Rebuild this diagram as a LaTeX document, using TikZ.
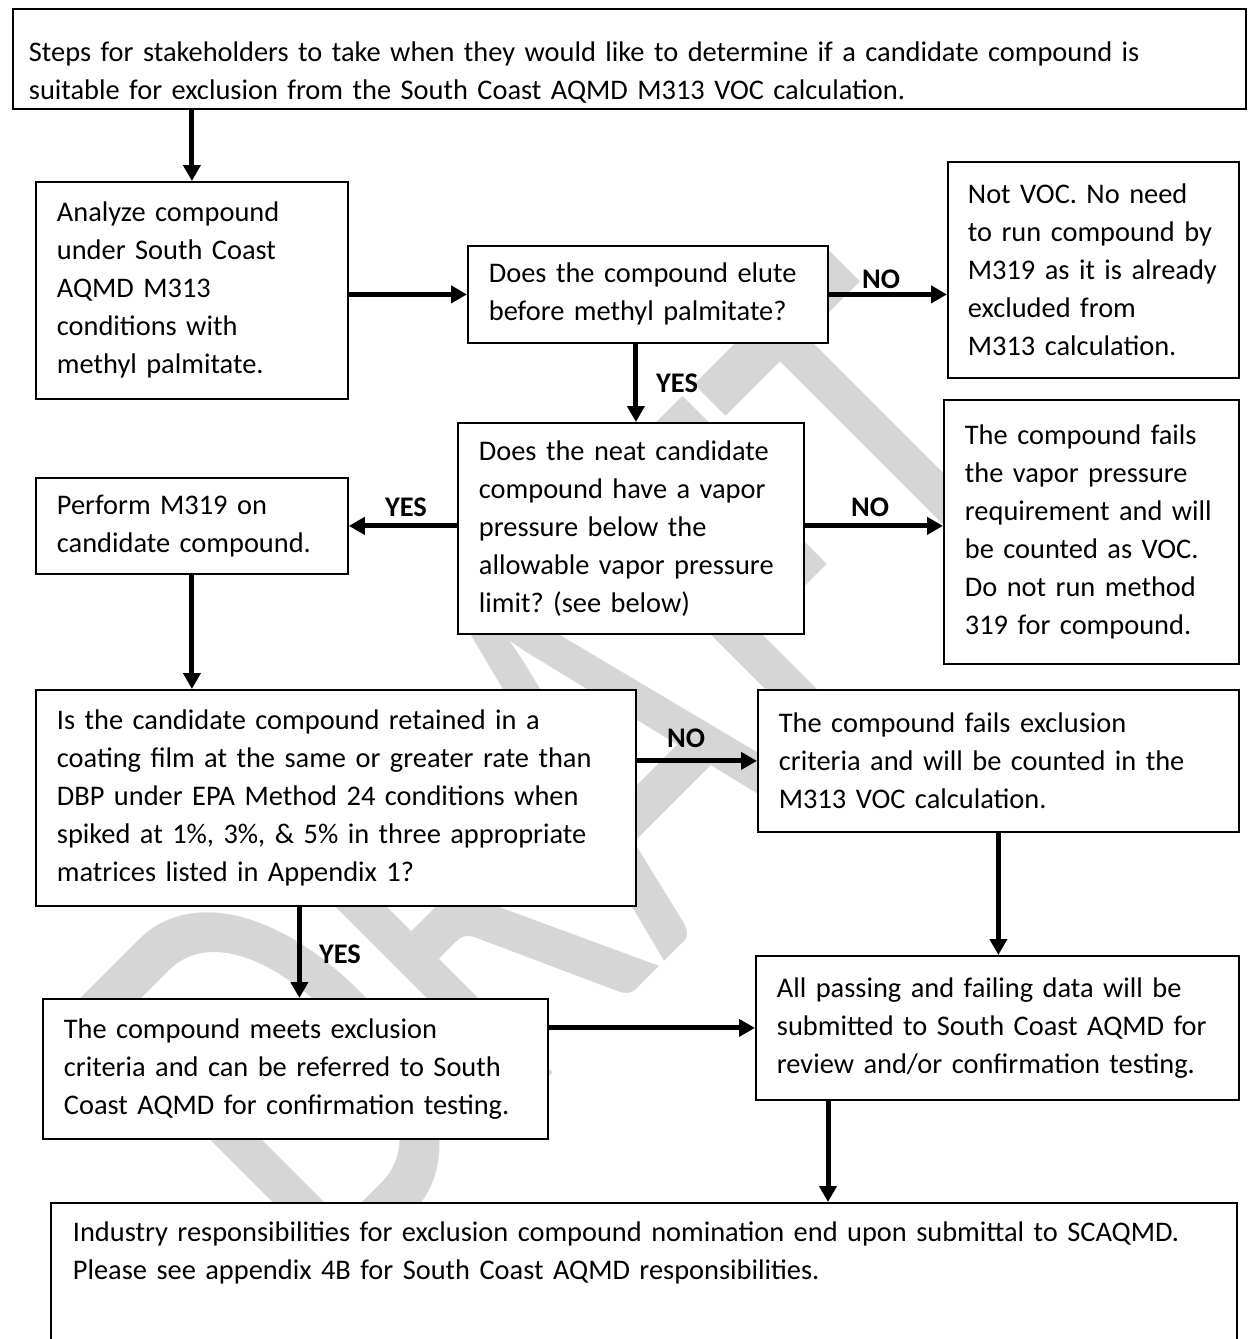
\documentclass[tikz,border=0pt]{standalone}
\usepackage{fontspec}
\setmainfont{Carlito}
\usetikzlibrary{arrows.meta, calc}

\begin{document}
\frenchspacing
\begin{tikzpicture}[
		    x=1pt, y=-1pt,
		    box/.style={draw=black, line width=1.8pt, fill=white, align=left,
		        inner xsep=21pt, inner ysep=0pt, anchor=north west,
		        font=\fontsize{28.4}{38}\selectfont},
		    arr/.style={line width=5pt, -{Triangle[length=16pt, width=17pt]}}
		]
		\tikzset{
		    lbl/.style={font=\fontsize{28.4}{38}\selectfont\bfseries, inner sep=0pt},
		    wmark/.style={text=black!16, font=\fontsize{410}{410}\selectfont,
		        inner sep=0pt, rotate=45, yscale=1.47, anchor=base west}
		}
		\useasboundingbox (0,0) rectangle (1248,1339);
		\fill[white] (0,0) rectangle (1248,1339);
		% watermark, behind the boxes
		\node[wmark] (draft) at (328,1298) {DRAFT};

		\node[box, text width=1201pt, inner xsep=16pt] (steps) at (12,8)
		  {\rule{0pt}{53pt}Steps for stakeholders to take when they would like to determine if a candidate compound is\\
		   suitable for exclusion from the South Coast AQMD M313 VOC calculation.\rule[-9pt]{0pt}{9pt}};
		\node[box, text width=270pt, minimum height=217pt] (analyze) at (35,181)
		  {Analyze compound\\ under South Coast\\ AQMD M313\\ conditions with\\ methyl palmitate.};
		\node[box, text width=318pt, minimum height=97pt] (elute) at (467,245)
		  {Does the compound elute\\ before methyl palmitate?};
		\node[box, text width=251pt, minimum height=216pt, inner xsep=20pt] (notvoc) at (947,161)
		  {Not VOC. No need\\ to run compound by\\ M319 as it is already\\ excluded from\\ M313 calculation.};
		\node[box, text width=304pt, minimum height=211pt] (vapor) at (457,422)
		  {Does the neat candidate\\ compound have a vapor\\ pressure below the\\ allowable vapor pressure\\ limit? (see below)};
		\node[box, text width=270pt, minimum height=96pt] (perform) at (35,477)
		  {Perform M319 on\\ candidate compound.};
		\node[box, text width=253pt, minimum height=264pt] (failvapor) at (943,399)
		  {The compound fails\\ the vapor pressure\\ requirement and will\\ be counted as VOC.\\ Do not run method\\ 319 for compound.};
		\node[box, text width=558pt, minimum height=216pt] (retained) at (35,689)
		  {Is the candidate compound retained in a\\ coating film at the same or greater rate than\\ DBP under EPA Method 24 conditions when\\ spiked at 1\%, 3\%, \& 5\% in three appropriate\\ matrices listed in Appendix 1?};
		\node[box, text width=439pt, minimum height=142pt] (failexcl) at (757,689)
		  {The compound fails exclusion\\ criteria and will be counted in the\\ M313 VOC calculation.};
		\node[box, text width=463pt, minimum height=140pt] (meets) at (42,998)
		  {The compound meets exclusion\\ criteria and can be referred to South\\ Coast AQMD for confirmation testing.};
		\node[box, text width=441pt, minimum height=144pt] (allpass) at (755,955)
		  {All passing and failing data will be\\ submitted to South Coast AQMD for\\ review and/or confirmation testing.};
		\node[box, text width=1142pt, inner xsep=22pt] (industry) at (50,1202)
		  {\rule{0pt}{39pt}Industry responsibilities for exclusion compound nomination end upon submittal to SCAQMD.\\
		   Please see appendix 4B for South Coast AQMD responsibilities.\rule[-81pt]{0pt}{81pt}};

		% YES / NO labels
		\node[lbl] (no1) at (881,279) {NO};
		\node[lbl] (yes1) at (677,383) {YES};
		\node[lbl] (yes2) at (406,507) {YES};
		\node[lbl] (no2) at (870,507) {NO};
		\node[lbl] (no3) at (686,738) {NO};
		\node[lbl] (yes3) at (340,954) {YES};

		\coordinate (drop) at ($(allpass.south west)+(73,0)$);

		\draw[arr] (analyze.north |- steps.south) -- (analyze.north);
		\draw[arr] (analyze.east |- elute.west) -- (elute.west);
		\draw[arr] (elute.east) -- (elute.east -| notvoc.west);
		\draw[arr] ([xshift=5pt]vapor.north |- elute.south) -- ([xshift=5pt]vapor.north);
		\draw[arr] (vapor.west |- perform.east) -- (perform.east);
		\draw[arr] (vapor.east |- perform.east) -- (failvapor.west |- perform.east);
		\draw[arr] (perform.south) -- (perform.south |- retained.north);
		\draw[arr] (retained.east |- failexcl.west) -- (failexcl.west);
		\draw[arr] ([xshift=4pt]meets.north |- retained.south) -- ([xshift=4pt]meets.north);
		\draw[arr] (failexcl.south) -- (failexcl.south |- allpass.north);
		\draw[arr] (meets.east |- allpass.west) -- (allpass.west);
		\draw[arr] (drop) -- (drop |- industry.north);
		\end{tikzpicture}
\end{document}
